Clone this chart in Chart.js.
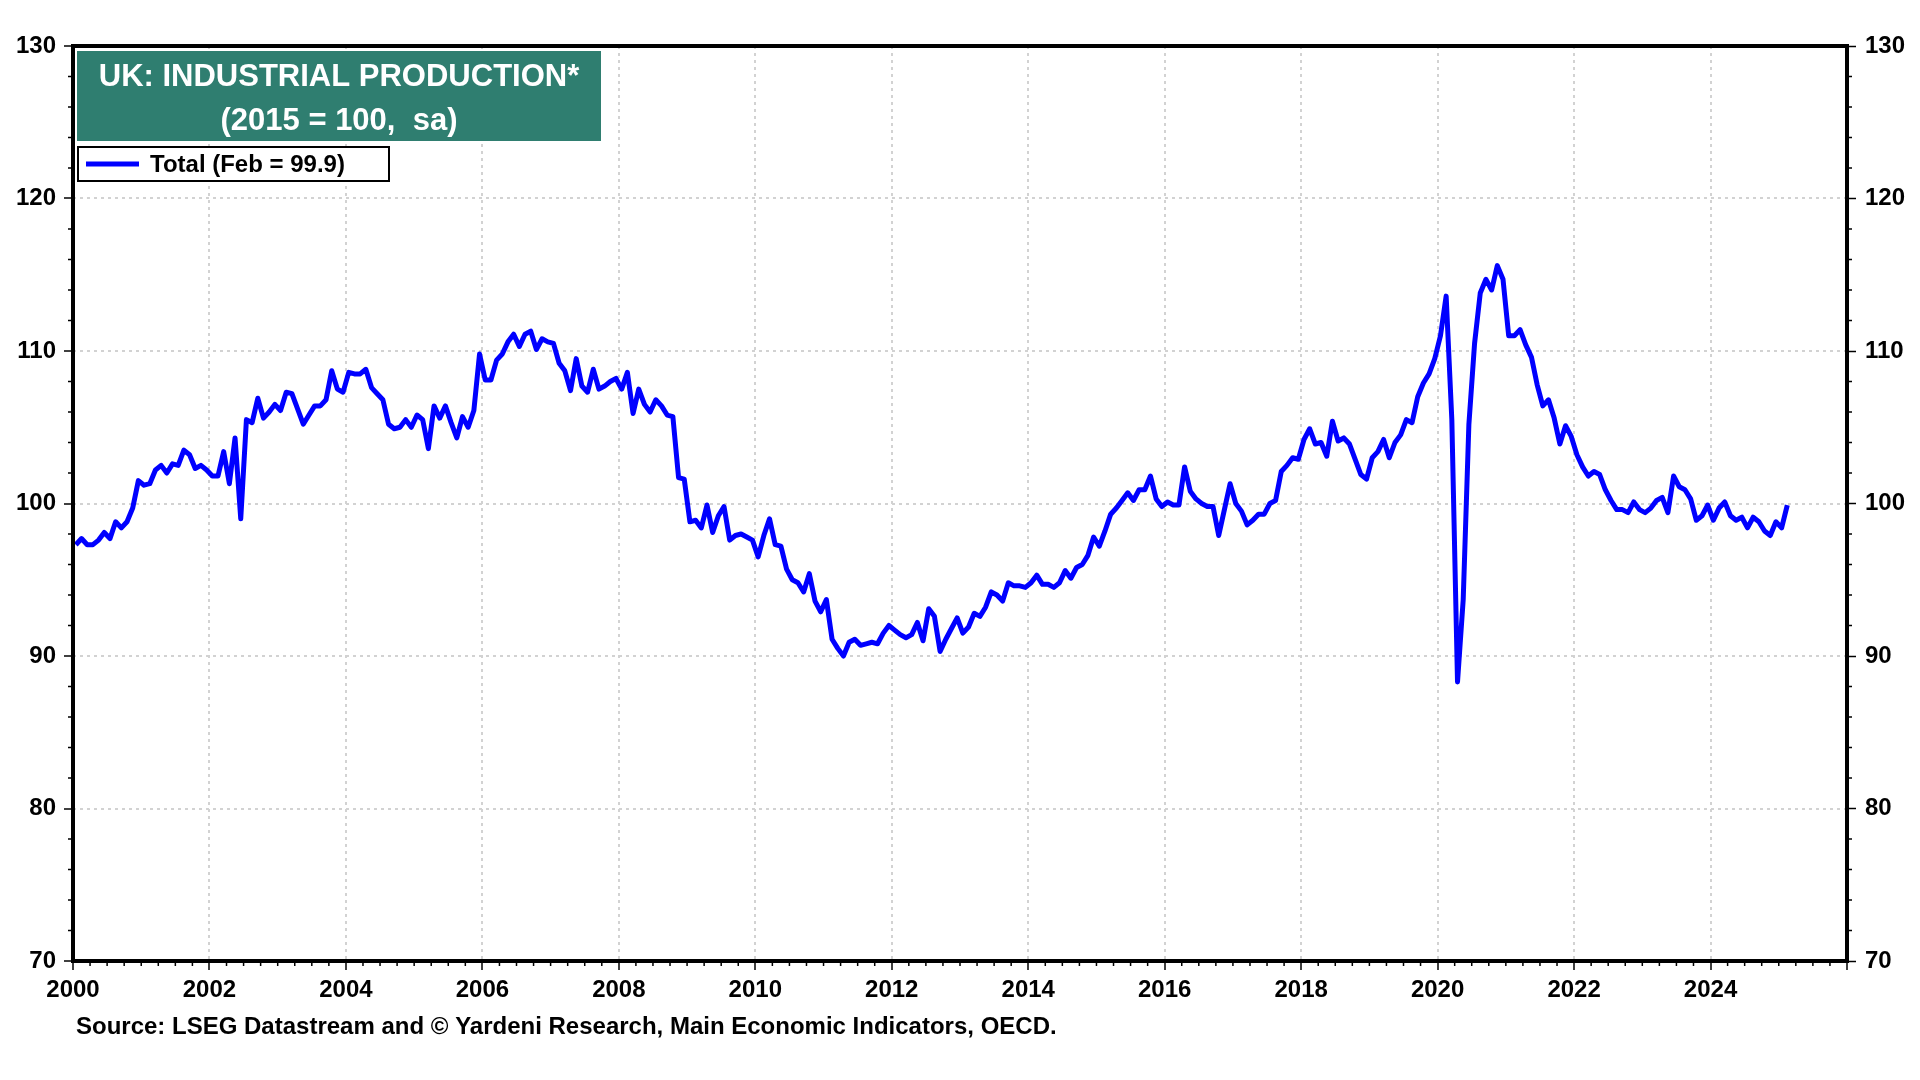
<!DOCTYPE html>
<html>
<head>
<meta charset="utf-8">
<title>UK: Industrial Production</title>
<script src="https://cdn.jsdelivr.net/npm/chart.js@4.4.1/dist/chart.umd.min.js"></script>
<style>
  html, body { margin: 0; padding: 0; background: #fff; }
  #wrap { width: 1920px; height: 1080px; }
</style>
</head>
<body>
<div id="wrap"><canvas id="ipChart" width="1920" height="1080"></canvas></div>
<script>
// monthly series, Jan 2000 .. Feb 2025
const startYear = 2000;
const ipTotal = [
  97.3, 97.7, 97.3, 97.3, 97.6, 98.1, 97.7, 98.8, 98.4, 98.8, 99.7, 101.5,      // 2000
  101.2, 101.3, 102.2, 102.5, 102.0, 102.6, 102.5, 103.5, 103.2, 102.3, 102.5, 102.2, // 2001
  101.8, 101.8, 103.4, 101.3, 104.3, 99.0, 105.5, 105.3, 106.9, 105.6, 106.0, 106.5,  // 2002
  106.1, 107.3, 107.2, 106.2, 105.2, 105.8, 106.4, 106.4, 106.8, 108.7, 107.5, 107.3, // 2003
  108.6, 108.5, 108.5, 108.8, 107.6, 107.2, 106.8, 105.2, 104.9, 105.0, 105.5, 105.0, // 2004
  105.8, 105.5, 103.6, 106.4, 105.6, 106.4, 105.3, 104.3, 105.7, 105.0, 106.1, 109.8, // 2005
  108.1, 108.1, 109.4, 109.8, 110.6, 111.1, 110.3, 111.1, 111.3, 110.1, 110.8, 110.6, // 2006
  110.5, 109.2, 108.7, 107.4, 109.5, 107.7, 107.3, 108.8, 107.5, 107.7, 108.0, 108.2, // 2007
  107.5, 108.6, 105.9, 107.5, 106.5, 106.0, 106.8, 106.4, 105.8, 105.7, 101.7, 101.6, // 2008
  98.8, 98.9, 98.4, 99.9, 98.1, 99.2, 99.8, 97.6, 97.9, 98.0, 97.8, 97.6,             // 2009
  96.5, 97.9, 99.0, 97.3, 97.2, 95.7, 95.0, 94.8, 94.2, 95.4, 93.6, 92.9,             // 2010
  93.7, 91.1, 90.5, 90.0, 90.9, 91.1, 90.7, 90.8, 90.9, 90.8, 91.5, 92.0,             // 2011
  91.7, 91.4, 91.2, 91.4, 92.2, 91.0, 93.1, 92.6, 90.3, 91.1, 91.8, 92.5,             // 2012
  91.5, 91.9, 92.8, 92.6, 93.2, 94.2, 94.0, 93.6, 94.8, 94.6, 94.6, 94.5,             // 2013
  94.8, 95.3, 94.7, 94.7, 94.5, 94.8, 95.6, 95.1, 95.8, 96.0, 96.6, 97.8,             // 2014
  97.2, 98.2, 99.3, 99.7, 100.2, 100.7, 100.2, 100.9, 100.9, 101.8, 100.3, 99.8,      // 2015
  100.1, 99.9, 99.9, 102.4, 100.8, 100.3, 100.0, 99.8, 99.8, 97.9, 99.6, 101.3,       // 2016
  100.0, 99.5, 98.6, 98.9, 99.3, 99.3, 100.0, 100.2, 102.1, 102.5, 103.0, 102.9,      // 2017
  104.2, 104.9, 103.9, 104.0, 103.1, 105.4, 104.1, 104.3, 103.9, 102.9, 101.9, 101.6, // 2018
  103.0, 103.4, 104.2, 103.0, 104.0, 104.5, 105.5, 105.3, 107.0, 107.9, 108.5, 109.5, // 2019
  111.0, 113.6, 105.5, 88.3, 93.7, 105.2, 110.5, 113.8, 114.7, 114.0, 115.6, 114.7,   // 2020
  111.0, 111.0, 111.4, 110.4, 109.6, 107.8, 106.4, 106.8, 105.6, 103.9, 105.1, 104.4, // 2021
  103.2, 102.4, 101.8, 102.1, 101.9, 100.9, 100.2, 99.6, 99.6, 99.4, 100.1, 99.6,     // 2022
  99.4, 99.7, 100.2, 100.4, 99.4, 101.8, 101.1, 100.9, 100.3, 98.9, 99.2, 99.9,       // 2023
  98.9, 99.7, 100.1, 99.2, 98.9, 99.1, 98.4, 99.1, 98.8, 98.2, 97.9, 98.8,            // 2024
  98.4, 99.9                                                                          // 2025
];

const yTicks = [70, 80, 90, 100, 110, 120, 130];
const xRange = [2000, 2026];
const xLabelLast = 2024;

const titleLines = ['UK: INDUSTRIAL PRODUCTION*', '(2015 = 100,  sa)'];
const seriesLabel = 'Total (Feb = 99.9)';
const sourceText = 'Source: LSEG Datastream and \u00A9 Yardeni Research, Main Economic Indicators, OECD.';

const FONT = "'Liberation Sans', Arial, sans-serif";
const BLUE = '#0000ff';
const TEAL = '#2f7e70';

// months plotted at mid-month
const points = ipTotal.map((v, i) => ({ x: startYear + (i + 0.5) / 12, y: v }));

// minor ticks, frame, title box, legend box and source line
const decor = {
  id: 'decor',
  afterDraw(chart) {
    const { ctx, chartArea: a, scales } = chart;
    const x = scales.x, y = scales.y;
    ctx.save();

    ctx.strokeStyle = '#000';
    ctx.lineWidth = 1.5;
    ctx.beginPath();
    for (let v = yTicks[0]; v <= yTicks[yTicks.length - 1]; v += 2) {
      if (v % 10 === 0) continue;
      const py = y.getPixelForValue(v);
      ctx.moveTo(a.left - 5, py); ctx.lineTo(a.left, py);
      ctx.moveTo(a.right, py); ctx.lineTo(a.right + 5, py);
    }
    for (let q = 1; q < (xRange[1] - xRange[0]) * 4; q++) {
      if (q % 8 === 0) continue;
      const px = x.getPixelForValue(xRange[0] + q / 4);
      ctx.moveTo(px, a.bottom); ctx.lineTo(px, a.bottom + 5);
    }
    ctx.stroke();

    // frame
    ctx.lineWidth = 4;
    ctx.strokeRect(a.left, a.top, a.right - a.left, a.bottom - a.top);

    // title box
    const bx = a.left + 4, by = a.top + 5, bw = 524, bh = 90;
    ctx.fillStyle = TEAL;
    ctx.fillRect(bx, by, bw, bh);
    ctx.fillStyle = '#fff';
    ctx.font = 'bold 31px ' + FONT;
    ctx.textAlign = 'center';
    ctx.textBaseline = 'middle';
    ctx.fillText(titleLines[0], bx + bw / 2, by + 26);
    ctx.fillText(titleLines[1], bx + bw / 2, by + 70);

    // legend
    const lx = a.left + 5, ly = by + bh + 6;
    ctx.fillStyle = '#fff';
    ctx.fillRect(lx, ly, 311, 34);
    ctx.lineWidth = 2;
    ctx.strokeStyle = '#000';
    ctx.strokeRect(lx, ly, 311, 34);
    ctx.strokeStyle = BLUE;
    ctx.lineWidth = 5;
    ctx.beginPath();
    ctx.moveTo(lx + 8, ly + 17); ctx.lineTo(lx + 61, ly + 17);
    ctx.stroke();
    ctx.fillStyle = '#000';
    ctx.font = 'bold 24px ' + FONT;
    ctx.textAlign = 'left';
    ctx.fillText(seriesLabel, lx + 72, ly + 18);

    // source
    ctx.font = 'bold 24px ' + FONT;
    ctx.fillText(sourceText, 76, 1027);

    ctx.restore();
  }
};

const tickFont = { family: FONT, size: 24, weight: 'bold' };

new Chart(document.getElementById('ipChart').getContext('2d'), {
  type: 'line',
  data: {
    datasets: [{
      label: seriesLabel,
      data: points,
      borderColor: BLUE,
      borderWidth: 5,
      pointRadius: 0,
      tension: 0,
      borderJoinStyle: 'round',
      fill: false
    }]
  },
  options: {
    responsive: false,
    animation: false,
    devicePixelRatio: 1,
    layout: { padding: { top: 46, left: 0, right: 0, bottom: 0 } },
    plugins: { legend: { display: false }, title: { display: false }, tooltip: { enabled: false } },
    scales: {
      x: {
        type: 'linear',
        min: xRange[0],
        max: xRange[1],
        afterFit(s) { s.height = 119; },
        ticks: {
          stepSize: 2,
          color: '#000',
          font: tickFont,
          padding: 6,
          maxRotation: 0,
          callback: v => (v <= xLabelLast ? String(v) : '')
        },
        grid: { color: '#d2d2d2', lineWidth: 2, tickLength: 9, tickColor: '#000', tickWidth: 1.5 },
        border: { display: false, dash: [3, 4] }
      },
      y: {
        position: 'left',
        min: yTicks[0],
        max: yTicks[yTicks.length - 1],
        afterFit(s) { s.width = 73; },
        afterBuildTicks(s) { s.ticks = yTicks.map(v => ({ value: v })); },
        ticks: { color: '#000', font: tickFont, padding: 8 },
        grid: { color: '#d2d2d2', lineWidth: 2, tickLength: 9, tickColor: '#000', tickWidth: 1.5 },
        border: { display: false, dash: [3, 4] }
      },
      y2: {
        position: 'right',
        min: yTicks[0],
        max: yTicks[yTicks.length - 1],
        afterFit(s) { s.width = 73; },
        afterBuildTicks(s) { s.ticks = yTicks.map(v => ({ value: v })); },
        ticks: { color: '#000', font: tickFont, padding: 9 },
        grid: { drawOnChartArea: false, tickLength: 9, tickColor: '#000', tickWidth: 1.5 },
        border: { display: false }
      }
    }
  },
  plugins: [decor]
});
</script>
</body>
</html>
